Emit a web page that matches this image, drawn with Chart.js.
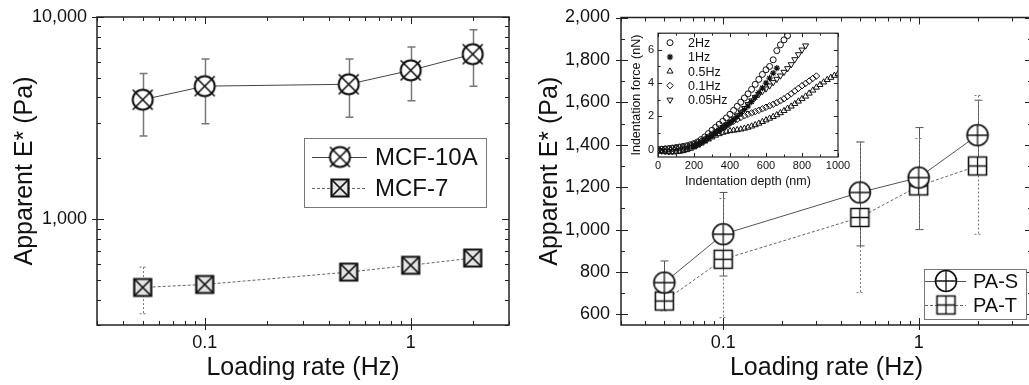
<!DOCTYPE html>
<html>
<head>
<meta charset="utf-8">
<script src="https://cdn.jsdelivr.net/npm/chart.js@4/dist/chart.umd.min.js"></script>
<style>
  html, body { margin: 0; padding: 0; background: #fff; overflow: hidden; }
  #wrap { position: relative; width: 1029px; height: 385px; overflow: hidden; }
  canvas { position: absolute; }
</style>
</head>
<body>
<div id="wrap">
  <canvas id="left" width="520" height="385" style="left:0;top:0"></canvas>
  <canvas id="right" width="530" height="385" style="left:520px;top:0"></canvas>
  <canvas id="inset" width="232" height="164" style="left:626px;top:28px"></canvas>
</div>
<script>
// ── data ──────────────────────────────────────────────────────────────
const rates = [0.05, 0.1, 0.5, 1, 2];

const mcf10a = [3900, 4550, 4650, 5450, 6550];
const mcf10aHigh = [5250, 6200, 6200, 7100, 8650];
const mcf10aLow = [2580, 2970, 3190, 3850, 4550];
const mcf7 = [460, 476, 548, 592, 643];
const mcf7High = [580, 488, 558, 600, 652];
const mcf7Low = [341, 466, 538, 584, 634];

const paS = [750, 978, 1175, 1245, 1445];
const paSHigh = [852, 1175, 1413, 1481, 1610];
const paSLow = [625, 781, 923, 1000, 1290];
const paT = [663, 860, 1057, 1206, 1300];
const paTHigh = [715, 1146, 1413, 1429, 1632];
const paTLow = [617, 585, 703, 1000, 978];

const rateTicks = [0.1, 1];
const rateTickLabels = ["0.1", "1"];
const logETicks = [1000, 10000];
const logETickLabels = ["1,000", "10,000"];
const linETicks = [600, 800, 1000, 1200, 1400, 1600, 1800, 2000];
const linETickLabels = ["600", "800", "1,000", "1,200", "1,400", "1,600", "1,800", "2,000"];

// inset: indentation curves
const depthNm = [0, 20, 40, 60, 80, 100, 120, 140, 160, 180, 200, 220, 240, 260, 280, 300, 320, 340, 360, 380,
  400, 420, 440, 460, 480, 500, 520, 540, 560, 580, 600, 620, 640, 660, 680, 700, 720, 740, 760, 780,
  800, 820, 840, 860, 880, 900, 920, 940, 960, 980, 1000];
const force2Hz = [0, 0.02, 0.04, 0.06, 0.09, 0.12, 0.15, 0.19, 0.23, 0.29, 0.36, 0.46, 0.6, 0.76, 0.96, 1.16, 1.34, 1.52, 1.7, 1.9,
  2.12, 2.36, 2.6, 2.85, 3.1, 3.35, 3.62, 3.92, 4.22, 4.52, 4.8, 5.0, 5.4, 5.95, 6.3, 6.6, 6.85];
const force1Hz = [null, null, null, null, null, null, null, null, null, null, 0.18, 0.28, 0.4, 0.54, 0.68, 0.82, 0.98, 1.14, 1.3, 1.46,
  1.62, 1.8, 1.98, 2.18, 2.4, 2.62, 2.88, 3.14, 3.42, 3.7, 4.0, 4.3, 4.6, 4.9];
const force05Hz = [-0.1, -0.12, -0.14, -0.15, -0.15, -0.14, -0.12, -0.08, -0.02, 0.06, 0.15, 0.26, 0.38, 0.5, 0.62, 0.74, 0.85, 0.94, 1.02, 1.08,
  1.12, 1.15, 1.18, 1.22, 1.27, 1.33, 1.4, 1.48, 1.57, 1.67, 1.77, 1.87, 1.97, 2.08, 2.2, 2.33, 2.47, 2.6, 2.75, 2.9,
  3.05, 3.2, 3.38, 3.56, 3.74, 3.9, 4.05, 4.2, 4.33, 4.45, 4.55];
const force01Hz = [0, 0.01, 0.02, 0.03, 0.05, 0.07, 0.1, 0.13, 0.17, 0.23, 0.3, 0.4, 0.5, 0.62, 0.75, 0.88, 1.02, 1.16, 1.3, 1.44,
  1.58, 1.7, 1.82, 1.93, 2.03, 2.12, 2.2, 2.28, 2.36, 2.45, 2.54, 2.63, 2.72, 2.82, 2.93, 3.05, 3.2, 3.36, 3.52, 3.68,
  3.84, 3.98, 4.12, 4.28, 4.42];
const force005Hz = [-0.05, -0.08, -0.1, -0.12, -0.12, -0.1, -0.06, 0, 0.06, 0.14, 0.24, 0.34, 0.45, 0.58, 0.72, 0.88, 1.02, 1.18, 1.34, 1.5,
  1.66, 1.84, 2.04, 2.26, 2.48, 2.72, 2.94, 3.14, 3.32, 3.5, 3.66, 3.84, 4.04, 4.24, 4.44, 4.66, 4.88, 5.12, 5.42, 5.72,
  6.0, 6.25];
const depthTicks = [0, 200, 400, 600, 800, 1000];
const forceTicks = [0, 2, 4, 6];

// ── styling helpers ───────────────────────────────────────────────────
const FONT = "'Liberation Sans', Arial, Helvetica, sans-serif";
Chart.defaults.font.family = FONT;
Chart.defaults.color = "#111";

// open/cross markers drawn once into small canvases
function makeMarker(shape, size, lw, fill) {
  const n = Math.ceil(size + 5);
  const c = document.createElement("canvas");
  c.width = c.height = n;
  const g = c.getContext("2d");
  const m = n / 2, r = size / 2;
  g.lineWidth = lw;
  g.strokeStyle = "#111";
  g.fillStyle = fill;
  g.beginPath();
  if (shape.startsWith("circle")) g.arc(m, m, r, 0, Math.PI * 2);
  else g.rect(m - r, m - r, size, size);
  g.fill();
  g.stroke();
  g.beginPath();
  if (shape.endsWith("X")) {
    g.moveTo(m - r, m - r); g.lineTo(m + r, m + r);
    g.moveTo(m + r, m - r); g.lineTo(m - r, m + r);
  } else {
    g.moveTo(m - r, m); g.lineTo(m + r, m);
    g.moveTo(m, m - r); g.lineTo(m, m + r);
  }
  g.lineWidth = shape === "circleX" ? 1.6 : lw * 0.8;
  g.stroke();
  return c;
}

const circleX = makeMarker("circleX", 20, 2, "#fff");
const squareX = makeMarker("squareX", 17, 2.2, "#e4e4e4");
const circlePlus = makeMarker("circlePlus", 21, 1.6, "#fff");
const squarePlus = makeMarker("squarePlus", 18, 1.6, "#fff");

function tickMarks(scale, step) {
  const out = [];
  const majors = scale.ticks.map((t) => t.value);
  if (scale.type === "logarithmic") {
    for (let e = Math.floor(Math.log10(scale.min)); e <= Math.ceil(Math.log10(scale.max)); e++) {
      for (let m = 1; m < 10; m++) {
        const v = +(m * Math.pow(10, e)).toPrecision(8);
        if (v >= scale.min * 0.999 && v <= scale.max * 1.001) out.push({ v, major: m === 1 });
      }
    }
  } else {
    for (let v = Math.ceil(scale.min / step) * step; v <= scale.max + 1e-9; v += step) {
      const r = +v.toFixed(6);
      out.push({ v: r, major: majors.some((mv) => Math.abs(mv - r) < 1e-6) });
    }
  }
  return out;
}

// box frame with inward ticks on all four sides
const framePlugin = {
  id: "frame",
  afterDraw(chart, args, o) {
    const { ctx, chartArea: a, scales: { x, y } } = chart;
    ctx.save();
    ctx.strokeStyle = "#222";
    ctx.lineWidth = o.lw;
    ctx.setLineDash([]);
    ctx.strokeRect(a.left, a.top, a.right - a.left, a.bottom - a.top);
    ctx.beginPath();
    for (const t of tickMarks(x, o.xStep)) {
      const px = Math.round(x.getPixelForValue(t.v)) + 0.5;
      const len = t.major ? o.major : o.minor;
      ctx.moveTo(px, a.bottom); ctx.lineTo(px, a.bottom - len);
      ctx.moveTo(px, a.top); ctx.lineTo(px, a.top + len);
      if (t.major && o.out) { ctx.moveTo(px, a.bottom); ctx.lineTo(px, a.bottom + o.out); }
    }
    for (const t of tickMarks(y, o.yStep)) {
      const py = Math.round(y.getPixelForValue(t.v)) + 0.5;
      const len = t.major ? o.major : o.minor;
      ctx.moveTo(a.left, py); ctx.lineTo(a.left + len, py);
      ctx.moveTo(a.right, py); ctx.lineTo(a.right - len, py);
      if (t.major && o.out) { ctx.moveTo(a.left, py); ctx.lineTo(a.left - o.out, py); }
    }
    ctx.lineWidth = 1;
    ctx.stroke();
    ctx.restore();
  },
};

// vertical error bars from errLow / errHigh arrays on each dataset
const errorBarPlugin = {
  id: "errorBars",
  beforeDatasetsDraw(chart) {
    const { ctx, scales: { x, y } } = chart;
    chart.data.datasets.forEach((ds) => {
      if (!ds.errLow) return;
      ctx.save();
      ctx.strokeStyle = ds.errColor;
      ctx.lineWidth = ds.errWidth;
      ctx.setLineDash(ds.errDash);
      ds.data.forEach((p, j) => {
        const px = Math.round(x.getPixelForValue(p.x)) + 0.5;
        const top = y.getPixelForValue(ds.errHigh[j]);
        const bot = y.getPixelForValue(ds.errLow[j]);
        ctx.beginPath();
        ctx.moveTo(px, top); ctx.lineTo(px, bot);
        ctx.moveTo(px - 4, top); ctx.lineTo(px + 4, top);
        ctx.moveTo(px - 4, bot); ctx.lineTo(px + 4, bot);
        ctx.stroke();
      });
      ctx.restore();
    });
  },
};

// framed legend: line sample + marker + label
const boxLegendPlugin = {
  id: "boxLegend",
  afterDraw(chart, args, o) {
    const ctx = chart.ctx;
    ctx.save();
    ctx.fillStyle = "#fff";
    ctx.fillRect(o.box[0], o.box[1], o.box[2], o.box[3]);
    ctx.strokeStyle = "#777";
    ctx.lineWidth = 1;
    ctx.strokeRect(o.box[0] + 0.5, o.box[1] + 0.5, o.box[2], o.box[3]);
    chart.data.datasets.forEach((ds, i) => {
      const yy = o.rows[i];
      ctx.strokeStyle = ds.borderColor;
      ctx.setLineDash(ds.borderDash || []);
      ctx.beginPath();
      ctx.moveTo(o.line[0], yy + 0.5); ctx.lineTo(o.line[1], yy + 0.5);
      ctx.stroke();
      ctx.setLineDash([]);
      const img = ds.pointStyle;
      ctx.drawImage(img, o.markerX - img.width / 2, yy - img.height / 2);
      ctx.fillStyle = "#111";
      ctx.font = o.font;
      ctx.textBaseline = "middle";
      ctx.fillText(ds.label, o.textX, yy + 1);
    });
    ctx.restore();
  },
};

// plain list legend for the inset
const listLegendPlugin = {
  id: "listLegend",
  afterDraw(chart, args, o) {
    const ctx = chart.ctx;
    ctx.save();
    chart.data.datasets.forEach((ds, i) => {
      const yy = o.y0 + i * o.dy;
      ctx.strokeStyle = "#111";
      ctx.fillStyle = "rgba(0,0,0,0)";
      ctx.lineWidth = ds.borderWidth;
      Chart.helpers.drawPoint(ctx, {
        pointStyle: ds.pointStyle, rotation: ds.rotation || 0,
        radius: ds.pointRadius, borderWidth: ds.borderWidth,
      }, o.x, yy);
      ctx.fillStyle = "#111";
      ctx.font = o.font;
      ctx.textBaseline = "middle";
      ctx.fillText(ds.label, o.textX, yy + 1);
    });
    ctx.restore();
  },
};

function pts(xs, ys) {
  return ys.map((v, i) => ({ x: xs[i], y: v }));
}

function axis(type, min, max, ticks, labels, size, pad, fit, title, titleSize, titlePad) {
  return {
    type, min, max,
    afterBuildTicks: (s) => { s.ticks = ticks.map((v) => ({ value: v })); },
    afterFit: (s) => {
      fit(s);
      s.paddingTop = 0; s.paddingBottom = 0; s.paddingLeft = 0; s.paddingRight = 0;
    },
    ticks: {
      autoSkip: false, maxRotation: 0, padding: pad, color: "#111",
      font: { size, family: FONT },
      callback: (v, i) => labels[i],
    },
    grid: { display: false, drawTicks: false },
    border: { display: false },
    title: {
      display: true, text: title, color: "#111",
      font: { size: titleSize, family: FONT }, padding: titlePad,
    },
  };
}

// ── left: MCF-10A vs MCF-7 ────────────────────────────────────────────
new Chart(document.getElementById("left"), {
  type: "line",
  data: {
    datasets: [
      {
        label: "MCF-10A", data: pts(rates, mcf10a),
        borderColor: "#444", borderWidth: 1, pointStyle: circleX, pointRadius: 10,
        errLow: mcf10aLow, errHigh: mcf10aHigh, errColor: "#777", errWidth: 1.5, errDash: [],
      },
      {
        label: "MCF-7", data: pts(rates, mcf7),
        borderColor: "#666", borderWidth: 1, borderDash: [3, 2], pointStyle: squareX, pointRadius: 9,
        errLow: mcf7Low, errHigh: mcf7High, errColor: "#777", errWidth: 1, errDash: [2, 2],
      },
    ],
  },
  options: {
    responsive: false, animation: false, events: [],
    layout: { padding: { top: 17, right: 8, bottom: 0, left: 0 } },
    plugins: {
      legend: { display: false }, tooltip: { enabled: false },
      frame: { lw: 1.5, major: 7, minor: 4, out: 5 },
      boxLegend: { box: [304, 138, 182, 69], rows: [157, 188], line: [312, 367], markerX: 340, textX: 375, font: `24px ${FONT}` },
    },
    scales: {
      x: axis("logarithmic", 0.03, 3, rateTicks, rateTickLabels, 18, 7, (s) => { s.height = 60; },
        "Loading rate (Hz)", 25, { top: 0, bottom: 2 }),
      y: axis("logarithmic", 300, 10000, logETicks, logETickLabels, 18, 10, (s) => { s.width = 97; },
        "Apparent E* (Pa)", 25, { top: 10, bottom: 0 }),
    },
  },
  plugins: [framePlugin, errorBarPlugin, boxLegendPlugin],
});

// ── right: PA-S vs PA-T ───────────────────────────────────────────────
new Chart(document.getElementById("right"), {
  type: "line",
  data: {
    datasets: [
      {
        label: "PA-S", data: pts(rates, paS),
        borderColor: "#555", borderWidth: 1, pointStyle: circlePlus, pointRadius: 10,
        errLow: paSLow, errHigh: paSHigh, errColor: "#555", errWidth: 1, errDash: [],
      },
      {
        label: "PA-T", data: pts(rates, paT),
        borderColor: "#666", borderWidth: 1, borderDash: [3, 2], pointStyle: squarePlus, pointRadius: 9,
        errLow: paTLow, errHigh: paTHigh, errColor: "#777", errWidth: 1, errDash: [2, 2],
      },
    ],
  },
  options: {
    responsive: false, animation: false, events: [],
    layout: { padding: { top: 17.5, right: 18, bottom: 0, left: 0 } },
    plugins: {
      legend: { display: false }, tooltip: { enabled: false },
      frame: { lw: 1.5, major: 7, minor: 4, out: 5, yStep: 100 },
      boxLegend: { box: [404, 269, 102, 50], rows: [281, 305], line: [405, 446], markerX: 426, textX: 453, font: `20px ${FONT}` },
    },
    scales: {
      x: axis("logarithmic", 0.03, 3.8, rateTicks, rateTickLabels, 18, 7, (s) => { s.height = 60; },
        "Loading rate (Hz)", 25, { top: 0, bottom: 2 }),
      y: axis("linear", 550, 2000, linETicks, linETickLabels, 18, 11, (s) => { s.width = 101; },
        "Apparent E* (Pa)", 25, { top: 15, bottom: 0 }),
    },
  },
  plugins: [framePlugin, errorBarPlugin, boxLegendPlugin],
});

// ── inset: force vs depth ─────────────────────────────────────────────
const open = "rgba(0,0,0,0)";
new Chart(document.getElementById("inset"), {
  type: "scatter",
  data: {
    datasets: [
      { label: "2Hz", data: pts(depthNm, force2Hz), pointStyle: "circle", pointRadius: 3, borderWidth: 1 },
      { label: "1Hz", data: pts(depthNm, force1Hz), pointStyle: "star", pointRadius: 3.2, borderWidth: 1.2 },
      { label: "0.5Hz", data: pts(depthNm, force05Hz), pointStyle: "triangle", pointRadius: 3.5, borderWidth: 1 },
      { label: "0.1Hz", data: pts(depthNm, force01Hz), pointStyle: "rectRot", pointRadius: 3.3, borderWidth: 1 },
      { label: "0.05Hz", data: pts(depthNm, force005Hz), pointStyle: "triangle", rotation: 180, pointRadius: 3.5, borderWidth: 1 },
    ].map((d) => ({ ...d, showLine: false, pointBorderColor: "#111", pointBackgroundColor: open, pointRotation: d.rotation || 0 })),
  },
  options: {
    responsive: false, animation: false, events: [],
    layout: { padding: { top: 5, right: 20, bottom: 0, left: 0 } },
    plugins: {
      legend: { display: false }, tooltip: { enabled: false },
      frame: { lw: 1.2, major: 4, minor: 2.5, out: 0, xStep: 100, yStep: 1 },
      listLegend: { x: 44, textX: 62, y0: 14.7, dy: 14.3, font: `12.5px ${FONT}` },
    },
    scales: {
      x: axis("linear", 0, 1000, depthTicks, depthTicks.map(String), 11, 2, (s) => { s.height = 35; },
        "Indentation depth (nm)", 12.5, { top: 0, bottom: 3 }),
      y: axis("linear", -0.45, 7, forceTicks, forceTicks.map(String), 11, 4, (s) => { s.width = 32; },
        "Indentation force (nN)", 12.5, { top: 3.5, bottom: 0 }),
    },
  },
  plugins: [framePlugin, listLegendPlugin],
});
</script>
</body>
</html>
